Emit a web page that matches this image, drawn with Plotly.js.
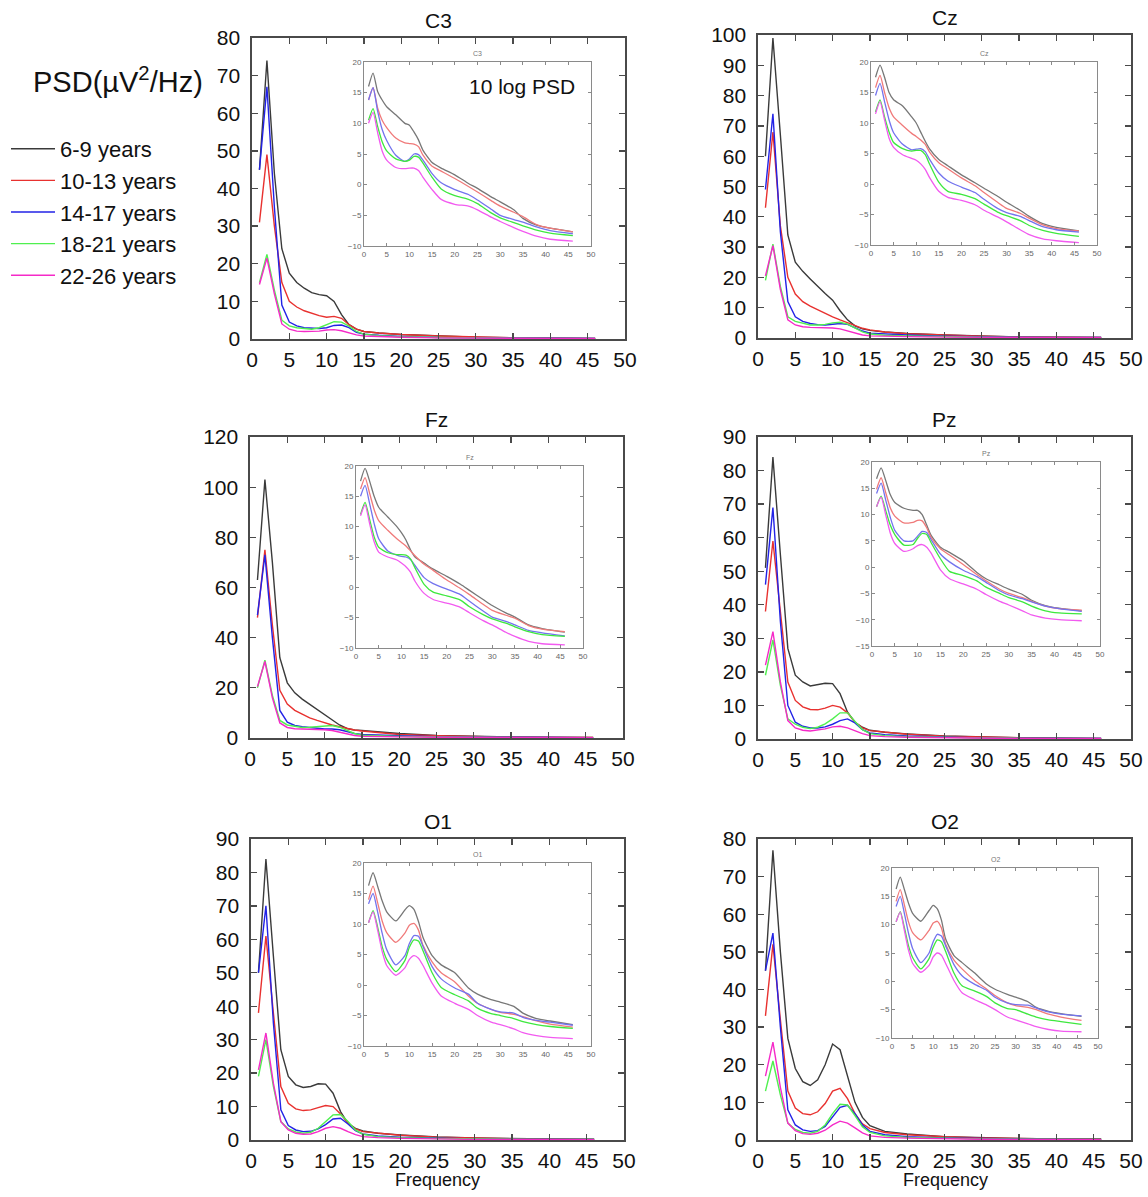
<!DOCTYPE html>
<html>
<head>
<meta charset="utf-8">
<script src="https://cdn.plot.ly/plotly-3.0.1.min.js"></script>
<style>html,body{margin:0;padding:0;background:#fff}#chart{width:1148px;height:1197px}</style>
</head>
<body>
<div id="chart"></div>
<script>
// Frequencies (Hz) at which values were read
const FM = [1,2,3,4,5,6,7,8,9,10,11,12,13,14,15,17,20,25,30,35,40,46];
const FI = [1,2,3,4,5,7,9,10,11,12,13,15,17,20,23,25,28,30,33,35,38,41,46];
const GROUPS = ['6-9 years','10-13 years','14-17 years','18-21 years','22-26 years'];
const CHANNELS = ['C3','Cz','Fz','Pz','O1','O2'];

// Linear PSD (µV²/Hz), rows: 6-9, 10-13, 14-17, 18-21, 22-26
const C3_lin = [
 [45,74,44,24,17.5,15,13.5,12.3,11.8,11.5,10,6.5,3.8,2.6,2.0,1.6,1.2,0.8,0.5,0.3,0.2,0.15],
 [31,49,30,15,10,8.5,7.5,6.8,6.2,5.8,6,5.5,3.8,2.6,2,1.6,1.2,0.8,0.5,0.3,0.2,0.15],
 [45,67,35,9,4.5,3.5,3,2.8,2.8,3,3.6,3.7,3,1.8,1.3,1.0,0.7,0.4,0.3,0.2,0.15,0.12],
 [15,22.5,13,5,3.5,3,2.8,2.6,3,3.8,4.6,4.5,3.4,2.0,1.3,0.9,0.6,0.4,0.25,0.2,0.12,0.1],
 [14.5,21.5,12,4,2.6,2.1,2.0,2.0,2.1,2.4,2.5,2.2,1.6,1.1,0.8,0.6,0.45,0.3,0.2,0.12,0.08,0.06]
];
const Cz_lin = [
 [60,99,67,34,25,22,19.5,17,14.7,12.5,9,6,4,3,2.5,2.0,1.5,1.0,0.6,0.35,0.25,0.2],
 [43,68,37,20,14.5,12,10.5,9.3,8.2,7,6,5,4,3.2,2.7,2.0,1.4,0.9,0.6,0.35,0.25,0.2],
 [49,74,35,12,7,5.5,4.8,4.4,4.3,4.5,4.8,4.5,3.5,2.3,1.6,1.3,1.0,0.6,0.35,0.25,0.18,0.15],
 [19,31,17,7,5.5,4.8,4.3,4.3,4.5,5,5.2,4.6,3.3,2.0,1.3,0.9,0.7,0.45,0.3,0.2,0.14,0.12],
 [20.5,30.5,16,6,4.3,3.7,3.5,3.5,3.5,3.3,3,2.4,1.7,1.0,0.7,0.55,0.45,0.3,0.2,0.13,0.1,0.08]
];
const Fz_lin = [
 [63,103,70,32,22,18,15.5,13.5,11.5,9.3,7.3,5.2,3.8,3.2,3.0,2.5,1.8,1.0,0.6,0.4,0.3,0.25],
 [48,75,45,19,13.5,11,9.5,8,7,6,5.2,4.5,3.8,3.2,2.8,2.2,1.4,0.9,0.55,0.35,0.25,0.2],
 [49,73,40,11,6.3,5,4.5,4.2,3.8,3.6,3.6,3.3,2.6,1.8,1.4,1.1,0.9,0.55,0.35,0.25,0.18,0.15],
 [20,31,17,7,5.2,4.6,4.2,4.3,4.5,4.8,5.0,4.3,3.0,1.8,1.1,0.8,0.65,0.45,0.28,0.2,0.15,0.13],
 [20.5,30.5,16,6,4.2,3.7,3.6,3.6,3.5,3.3,3.0,2.3,1.6,1.0,0.7,0.55,0.45,0.3,0.2,0.13,0.1,0.08]
];
const Pz_lin = [
 [51,84,55,27,19,17,15.8,16.2,16.6,16.5,13.5,8,5,3.5,2.6,2.0,1.5,0.9,0.6,0.35,0.25,0.2],
 [38,59,38,17,11.5,9.6,8.8,8.7,9.2,10.0,9.5,7.8,5.0,3.3,2.5,2.0,1.4,0.85,0.5,0.35,0.25,0.2],
 [46,69,35,10,5,3.8,3.3,3.3,3.6,4.4,5.5,6.0,4.8,2.8,1.8,1.3,0.9,0.6,0.35,0.25,0.18,0.15],
 [19,29.5,16,6,4.4,3.5,3.1,3.5,4.5,6.0,7.8,7.8,5.2,2.8,1.6,1.0,0.7,0.45,0.28,0.2,0.14,0.12],
 [22,32,17,5.5,3.3,2.6,2.4,2.6,3.0,3.6,3.8,3.3,2.4,1.6,1.0,0.7,0.5,0.32,0.2,0.13,0.09,0.07]
];
const O1_lin = [
 [50,84,55,27,19,16.5,15.7,16,16.8,16.7,14,8.5,5,3.5,2.7,2.0,1.5,0.9,0.6,0.4,0.3,0.25],
 [38,61,38,16,11,9.3,8.8,9,9.7,10.3,10,7.8,5,3.3,2.5,2.0,1.4,0.85,0.55,0.35,0.25,0.2],
 [50,70,35,9,4.3,3.0,2.5,2.6,3.3,4.6,6.3,6.5,4.8,2.8,1.8,1.2,0.85,0.55,0.35,0.25,0.2,0.17],
 [19,30,16,5.5,3.3,2.4,2.0,2.3,3.5,5.5,7.5,7.6,5.5,3.0,1.7,1.0,0.7,0.45,0.3,0.22,0.17,0.15],
 [21,32,17,5.5,3.0,2.0,1.7,1.8,2.5,3.5,4.0,3.5,2.5,1.6,1.0,0.7,0.5,0.3,0.2,0.14,0.1,0.08]
];
const O2_lin = [
 [45,77,50,27,19,15.5,14.5,16,20,25.5,24,17,10,6,3.8,2.3,1.6,0.9,0.6,0.4,0.3,0.25],
 [33,52,32,13,8.5,7,6.7,7.5,9.7,13,13.7,11,7,4.3,3,2.0,1.4,0.85,0.55,0.35,0.25,0.2],
 [45,55,30,8,4,2.7,2.3,2.5,3.6,6,8.7,9.2,7,4,2.3,1.4,0.9,0.55,0.35,0.25,0.2,0.17],
 [13,21,12,4.5,2.8,2.0,1.8,2.3,4.0,7,9.5,9.3,6.5,3.5,2.0,1.1,0.7,0.45,0.3,0.22,0.17,0.15],
 [17,26,14,4.5,2.5,1.7,1.5,1.8,2.6,4,5,4.5,3.2,1.9,1.1,0.7,0.5,0.3,0.2,0.14,0.1,0.08]
];

// 10 log PSD (dB), rows: 6-9, 10-13, 14-17, 18-21, 22-26
const C3_db = [
 [16,18.2,15.2,13.8,12.7,11.4,10,9.7,8.6,7.3,5.6,3.6,2.7,1.6,0.2,-0.6,-2,-2.8,-4.1,-5.5,-6.6,-7.1,-7.7],
 [13.8,15.8,12.5,10.5,9.3,7.6,6.8,6.7,6.6,6.2,4.8,3.0,2.2,1.0,-0.3,-1.2,-2.6,-3.5,-4.5,-5.2,-6.5,-7.1,-7.7],
 [13.8,15.8,12,9,7.2,4.8,3.8,4.2,5.0,4.9,4.0,1.8,0.3,-0.8,-1.6,-2.5,-4.0,-5.0,-5.7,-6.1,-6.9,-7.5,-8.0],
 [10.5,12.4,9.5,7.0,5.5,4.2,3.8,4.0,4.6,4.5,3.5,1.2,-0.7,-1.8,-2.4,-3.1,-4.6,-5.4,-6.2,-6.7,-7.4,-7.9,-8.3],
 [10,11.8,8.5,5.5,4.0,2.8,2.6,2.7,2.7,2.3,1.2,-0.8,-2.4,-3.2,-3.5,-4.1,-5.3,-6.0,-7.0,-7.6,-8.4,-8.9,-9.2]
];
const Cz_db = [
 [17.5,19.5,17.5,15,13.8,12.8,11,10,8.5,7,5.7,4.0,3.0,1.5,0.2,-0.7,-2.0,-3.0,-4.3,-5.3,-6.5,-7.1,-7.7],
 [15.8,17.8,15,12.5,11.0,9.6,8.3,7.8,7.2,6.5,5.2,3.5,2.5,1.0,-0.3,-1.4,-3.0,-4.0,-4.8,-5.6,-6.7,-7.3,-7.7],
 [14.5,16.5,13.5,10.5,8.4,6.5,5.6,5.7,5.8,5.3,4.0,1.8,0.5,-0.5,-1.4,-2.5,-4.0,-4.7,-5.3,-6.0,-7.0,-7.5,-7.9],
 [11.8,13.8,11,8.5,6.8,5.8,5.4,5.5,5.5,4.8,3.2,0.3,-1.2,-1.7,-2.4,-3.3,-4.6,-5.2,-6.0,-6.8,-7.6,-8.1,-8.6],
 [11.5,13.5,10.5,7.5,6.0,4.8,4.2,3.9,3.3,2.4,1.0,-1.2,-2.2,-2.7,-3.4,-4.3,-5.4,-6.2,-7.5,-8.3,-9.0,-9.3,-9.6]
];
const Fz_db = [
 [17.5,19.6,17.5,15,13.2,11.6,10.0,9.0,7.8,6.2,5.0,4.0,3.0,1.8,0.5,-0.5,-2.0,-3.0,-4.2,-4.9,-6.2,-6.8,-7.4],
 [16.2,18.1,15.5,12.8,11.0,9.4,8.0,7.4,6.8,6.0,5.2,3.8,2.8,1.2,-0.2,-1.2,-2.8,-3.8,-4.6,-5.1,-6.3,-6.9,-7.3],
 [15,16.8,13.8,10.5,8.0,6.0,5.3,5.1,5.0,4.6,3.6,1.6,0.6,-0.3,-1.2,-2.3,-3.9,-4.9,-5.6,-6.2,-7.1,-7.5,-8.0],
 [12,14,11.2,8.3,6.6,5.7,5.4,5.4,5.3,4.7,3.2,0.5,-0.8,-1.4,-2.1,-3.2,-4.5,-5.2,-5.9,-6.5,-7.3,-7.8,-8.1],
 [11.8,13.6,10.5,7.5,5.8,5.0,4.5,4.0,3.4,2.5,1.0,-1.0,-2.0,-2.6,-3.3,-4.2,-5.5,-6.2,-7.4,-8.1,-8.9,-9.3,-9.5]
];
const Pz_db = [
 [16.8,18.9,16.5,13.8,12.3,11.2,10.8,10.8,10.0,8.0,6.0,3.8,2.8,1.2,-1.0,-2.2,-3.4,-4.2,-5.2,-6.3,-7.3,-7.8,-8.3],
 [14.8,17,14.2,11.3,9.7,8.4,8.5,8.9,8.8,7.5,5.6,3.5,2.3,0.5,-1.4,-2.6,-4.2,-5.0,-5.8,-6.5,-7.4,-7.9,-8.2],
 [14,16,12.8,9.5,7.0,5.0,5.0,5.9,6.8,6.6,5.2,2.5,1.0,-0.6,-1.8,-2.9,-4.5,-5.3,-6.0,-6.6,-7.4,-7.9,-8.4],
 [11.5,13.5,10.8,8.0,6.2,4.2,4.3,5.5,6.4,6.2,4.6,1.6,-0.8,-1.6,-2.6,-3.8,-5.0,-5.8,-6.6,-7.4,-8.3,-8.7,-8.9],
 [11.5,13.3,10.0,6.5,4.5,3.0,3.5,4.1,4.3,3.8,2.6,-0.5,-2.2,-3.2,-4.2,-5.2,-6.5,-7.2,-8.3,-9.1,-9.7,-10.0,-10.2]
];
const O1_db = [
 [16.3,18.4,16.2,13.8,12.0,10.5,12.3,13.0,12.4,10.4,7.8,4.8,3.3,2.0,-0.5,-1.5,-2.4,-2.8,-3.5,-4.6,-5.5,-5.9,-6.5],
 [14,16.2,13.5,10.5,8.6,7.0,8.5,9.8,10.1,9.0,6.5,3.8,2.0,0.5,-1.8,-3.0,-4.0,-4.5,-4.8,-5.2,-5.9,-6.4,-6.9],
 [13.3,15.0,12,8.5,5.8,3.3,4.8,6.8,8.1,8.0,6.3,3.0,1.0,-0.5,-1.5,-3.0,-4.0,-4.4,-4.6,-5.3,-5.8,-6.1,-6.6],
 [10.2,12.2,9.5,6.3,4.2,2.2,4.0,6.2,7.4,7.2,5.6,2.0,-0.4,-1.6,-2.6,-3.8,-4.7,-5.0,-5.5,-6.0,-6.5,-6.8,-7.1],
 [10.2,12,9.0,5.5,3.2,1.6,2.8,4.2,4.8,4.4,3.2,0.3,-1.8,-3.0,-4.0,-5.0,-6.1,-6.5,-7.2,-7.8,-8.3,-8.6,-8.8]
];
const O2_db = [
 [16.3,18.4,16.2,13.8,12.0,10.6,12.5,13.4,12.8,10.8,7.5,4.6,3.3,1.5,-0.5,-1.4,-2.3,-2.8,-3.6,-4.6,-5.3,-5.7,-6.2],
 [14.1,16.2,13.5,10.5,8.6,7.3,9.0,10.3,10.6,9.4,6.6,3.8,2.2,0.2,-1.4,-2.5,-3.8,-4.3,-4.6,-5.0,-5.8,-6.3,-6.9],
 [13.2,15.0,12,8.5,5.8,3.3,5.0,7.0,8.3,8.0,6.3,3.0,1.0,-0.5,-1.6,-2.8,-3.8,-4.1,-4.2,-4.7,-5.4,-5.8,-6.1],
 [10.5,12.3,9.5,6.3,4.2,2.2,4.0,6.0,7.3,7.0,5.3,1.5,-0.8,-1.7,-2.7,-3.8,-4.8,-5.0,-5.8,-6.3,-6.8,-7.1,-7.6],
 [10.5,12.2,9.0,5.5,3.2,1.6,2.8,4.3,5.0,4.6,3.2,0.2,-2.0,-3.2,-4.2,-5.0,-6.3,-6.8,-7.5,-8.0,-8.5,-8.8,-8.9]
];

const MAIN_YMAX = [80,100,120,90,90,80];
const MAIN_DTICK = [10,10,20,10,10,10];
const INSET_YMIN = [-10,-10,-10,-15,-10,-10];

const LIN = [C3_lin,Cz_lin,Fz_lin,Pz_lin,O1_lin,O2_lin];
const DB = [C3_db,Cz_db,Fz_db,Pz_db,O1_db,O2_db];

// styling
const COL_MAIN = ['#3a3a3a','#e8312f','#2222e6','#4ff04f','#f52ac8'];
const COL_INSET = ['#777777','#f07a7a','#7373ee','#3ee83e','#f25af0'];
const W = 1148, H = 1197;
// pixel boxes [x0,x1,y0(top),y1(bottom)]
const MAIN_BOX = [[252,625,38,339],[758,1131,35,338],[250,623,437,738],[758,1131,437,739],[251,624,839,1140],[758,1131,839,1140]];
const INSET_BOX = [[364,591,62,246],[871,1097,62,245],[356,583,466,648],[872,1100,462,646],[364,591,863,1046],[892,1098,868,1038]];

function xd(b){return [b[0]/W, b[1]/W];}
function yd(b){return [1-b[3]/H, 1-b[2]/H];}

const FONT = 'Liberation Sans, Arial, sans-serif';
const traces = [];
const layout = {
  width: W, height: H,
  margin: {l:0,r:0,t:0,b:0},
  paper_bgcolor: '#fff', plot_bgcolor: '#fff',
  font: {family: FONT, color: '#111'},
  showlegend: true,
  legend: {x: 6/W, y: 1-128/H, xanchor:'left', yanchor:'top', font:{size:22, family:FONT, color:'#111'},
           bgcolor:'rgba(0,0,0,0)', tracegroupgap: 0, itemwidth: 44, traceorder:'normal'},
  annotations: [], shapes: []
};

for (let p=0; p<6; p++) {
  const mi = p+1, ii = p+7;
  const mx = 'x'+(mi===1?'':mi), my = 'y'+(mi===1?'':mi);
  const ix = 'x'+ii, iy = 'y'+ii;
  for (let g=0; g<5; g++) {
    traces.push({type:'scatter', mode:'lines', x:FM, y:LIN[p][g], xaxis:mx, yaxis:my,
      name:GROUPS[g], showlegend:p===0,
      line:{color:COL_MAIN[g], width:1.4}});
  }
  for (let g=0; g<5; g++) {
    traces.push({type:'scatter', mode:'lines', x:FI, y:DB[p][g], xaxis:ix, yaxis:iy,
      name:GROUPS[g], showlegend:false,
      line:{color:COL_INSET[g], width:1.3, shape:'spline', smoothing:0.6}});
  }
  const mb = MAIN_BOX[p], ib = INSET_BOX[p];
  const axMain = {showgrid:false, zeroline:false, showline:true, linecolor:'#4a4a4a', linewidth:1.6,
     mirror:'ticks', ticks:'inside', ticklen:6, tickcolor:'#4a4a4a', tickwidth:1.3,
     tickfont:{size:21, family:FONT, color:'#111'}};
  layout['xaxis'+(mi===1?'':mi)] = Object.assign({}, axMain, {domain:xd(mb), range:[0,50],
     tickvals:[0,5,10,15,20,25,30,35,40,45,50], anchor:my, ticklabelstandoff:1});
  layout['yaxis'+(mi===1?'':mi)] = Object.assign({}, axMain, {domain:yd(mb), range:[0,MAIN_YMAX[p]],
     dtick:MAIN_DTICK[p], tick0:0, anchor:mx, ticklabelstandoff:6});
  const axIn = {showgrid:false, zeroline:false, showline:true, linecolor:'#8a8a8a', linewidth:1,
     mirror:'ticks', ticks:'inside', ticklen:3, tickcolor:'#8a8a8a', tickwidth:1,
     tickfont:{size:8, family:FONT, color:'#666'}};
  layout['xaxis'+ii] = Object.assign({}, axIn, {domain:xd(ib), range:[0,50],
     tickvals:[0,5,10,15,20,25,30,35,40,45,50], anchor:iy});
  layout['yaxis'+ii] = Object.assign({}, axIn, {domain:yd(ib), range:[INSET_YMIN[p],20],
     dtick:5, tick0:0, anchor:ix});
  // titles
  layout.annotations.push({text:CHANNELS[p], xref:'paper', yref:'paper', x:(mb[0]+mb[1])/2/W, y:1-(mb[2]-4)/H,
     xanchor:'center', yanchor:'bottom', showarrow:false, font:{size:21, family:FONT, color:'#111'}});
  layout.annotations.push({text:CHANNELS[p], xref:'paper', yref:'paper', x:(ib[0]+ib[1])/2/W, y:1-(ib[2]-3)/H,
     xanchor:'center', yanchor:'bottom', showarrow:false, font:{size:7, family:FONT, color:'#777'}});
}
layout.annotations.push({text:'PSD(µV<sup>2</sup>/Hz)', xref:'paper', yref:'paper', x:118/W, y:1-80/H,
   xanchor:'center', yanchor:'middle', showarrow:false, font:{size:29, family:FONT, color:'#111'}});
layout.annotations.push({text:'10 log PSD', xref:'paper', yref:'paper', x:522/W, y:1-86/H,
   xanchor:'center', yanchor:'middle', showarrow:false, font:{size:21, family:FONT, color:'#111'}});
layout.annotations.push({text:'Frequency', xref:'paper', yref:'paper', x:437/W, y:1-1180/H,
   xanchor:'center', yanchor:'middle', showarrow:false, font:{size:18, family:FONT, color:'#111'}});
layout.annotations.push({text:'Frequency', xref:'paper', yref:'paper', x:945/W, y:1-1180/H,
   xanchor:'center', yanchor:'middle', showarrow:false, font:{size:18, family:FONT, color:'#111'}});

Plotly.newPlot('chart', traces, layout, {staticPlot:true, displayModeBar:false});
</script>
</body>
</html>
